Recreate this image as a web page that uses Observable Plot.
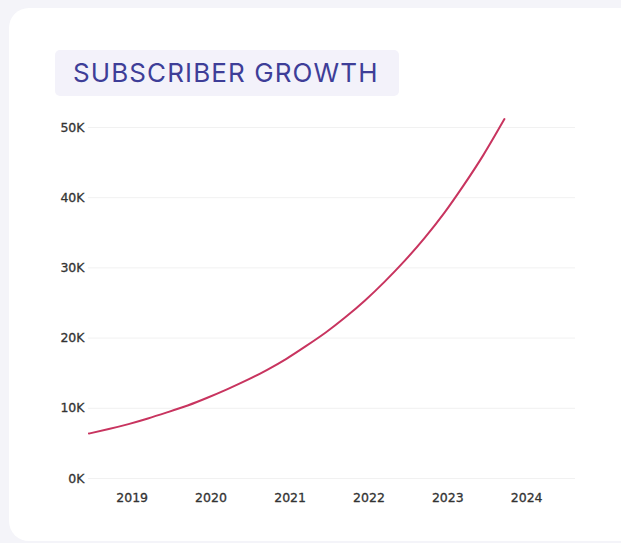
<!DOCTYPE html>
<html>
<head>
<meta charset="utf-8">
<script src="https://cdn.jsdelivr.net/npm/d3@7"></script>
<script src="https://cdn.jsdelivr.net/npm/@observablehq/plot@0.6"></script>
<style>
  html, body { margin: 0; padding: 0; }
  body { width: 621px; height: 543px; background: #f4f4f9; overflow: hidden; position: relative; }
  #card { position: absolute; left: 9px; top: 8px; width: 630px; height: 533px; border-radius: 20px; background: #ffffff; }
  #title { position: absolute; left: 55px; top: 50px; height: 46px; line-height: 46px; padding: 0 20px 0 18px;
           background: #f3f2fa; border-radius: 5px; font-family: Inter, "Noto Sans", sans-serif; font-size: 26px;
           color: #3e3e98; letter-spacing: 1.1px; white-space: nowrap; }
  #chart { position: absolute; left: 0; top: 105px; }
</style>
</head>
<body>
<div id="card"></div>
<div id="title">SUBSCRIBER GROWTH</div>
<div id="chart"></div>
<script>
const dates = ["2018-06-15","2018-09-15","2018-12-15","2019-03-15","2019-06-15","2019-09-15","2019-12-15",
  "2020-03-15","2020-06-15","2020-09-15","2020-12-15","2021-03-15","2021-06-15","2021-09-15","2021-12-15",
  "2022-03-15","2022-06-15","2022-09-15","2022-12-15","2023-03-15","2023-06-15","2023-09-20"];
const subscribers = [6400, 7050, 7750, 8550, 9450, 10400, 11500,
  12700, 14000, 15450, 17050, 18850, 20800, 23000, 25400,
  28050, 31000, 34250, 37800, 41750, 46100, 51200];
const yTicks = [0, 10000, 20000, 30000, 40000, 50000];
const xTickYears = ["2019", "2020", "2021", "2022", "2023", "2024"];
const xDomain = ["2018-06-13", "2024-08-14"];

const data = dates.map((d, i) => ({date: new Date(d), value: subscribers[i]}));
const xTicks = xTickYears.map(y => new Date(y + "-01-01"));

const labelStyle = {fill: "#333333", textStroke: "#333333", textStrokeWidth: 0.3, textStrokeOpacity: 1};

const chart = Plot.plot({
  width: 621,
  height: 420,
  marginLeft: 88,
  marginRight: 46,
  marginTop: 22,
  marginBottom: 47,
  style: {fontFamily: "DejaVu Sans, sans-serif", fontSize: "12.5px", background: "transparent", overflow: "visible"},
  x: {type: "utc", domain: xDomain.map(d => new Date(d))},
  y: {domain: [0, 50000]},
  marks: [
    Plot.gridY(yTicks, {stroke: "#f1f1f1", strokeOpacity: 1}),
    Plot.axisY(yTicks, {tickSize: 0, tickPadding: 4, ...labelStyle, tickFormat: d => (d / 1000) + "K", label: null}),
    Plot.axisX(xTicks, {tickSize: 0, tickPadding: 15, ...labelStyle, tickFormat: d => d3.utcFormat("%Y")(d), label: null}),
    Plot.lineY(data, {x: "date", y: "value", stroke: "#c8345f", strokeWidth: 2, curve: "natural", clip: false})
  ]
});
document.getElementById("chart").appendChild(chart);
</script>
</body>
</html>
